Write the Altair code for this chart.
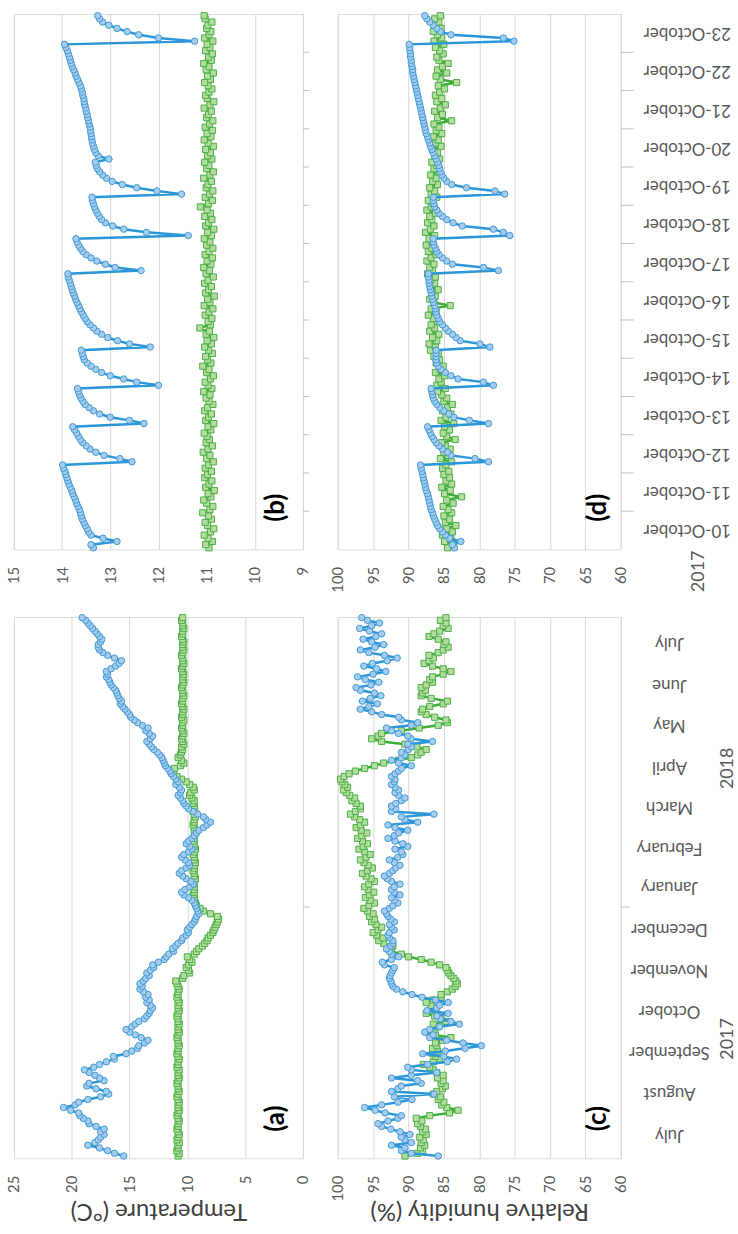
import altair as alt
import pandas as pd

FONT = "Lato"
LABEL_GREY = "#595959"
TITLE_GREY = "#404040"
GRID_GREY = "#D9D9D9"
FRAME_GREY = "#BFBFBF"

BLUE_LINE = "#2B97D8"
BLUE_FILL = "#A6CBEC"
BLUE_EDGE = "#3E9AD6"
GREEN_LINE = "#3DAD3A"
GREEN_FILL = "#B3DC9E"
GREEN_EDGE = "#4CAF47"

# ---- season axis (days counted from 1 January 2018) ----
month_names = ["July", "August", "September", "October", "November", "December",
               "January", "February", "March", "April", "May", "June", "July"]
month_mid_day = [-169, -138, -108, -77, -47, -16, 15, 44, 74, 104, 135, 165, 196]
year_names = ["2017", "2018"]
year_mid_day = [-98, 103]
year_edge_day = [0]
season_domain = [-186.7, 215.5]
season_day = list(range(-185, 216, 2))

# ---- October detail axis (hours from 10 October 00:00) ----
day_names = ["10-October", "11-October", "12-October", "13-October", "14-October",
             "15-October", "16-October", "17-October", "18-October", "19-October",
             "20-October", "21-October", "22-October", "23-October"]
day_mid_hour = [12 + 24 * k for k in range(14)]
day_edge_hour = [24 * k for k in range(1, 14)]
oct_domain = [0, 336]
oct_hour = list(range(1, 336, 2))

# ---- (a) temperature, whole season ----
season_temp_blue = [
    15.5, 16.3, 16.9, 17.6, 18.6, 18.0, 17.7, 17.5, 17.2, 17.5,
    17.2, 17.9, 18.5, 18.6, 19.0, 19.3, 19.4, 20.1, 20.7, 19.7,
    19.4, 18.6, 17.5, 16.8, 17.0, 17.9, 18.7, 18.5, 17.2, 17.6,
    18.0, 18.5, 18.9, 18.1, 17.6, 17.0, 16.3, 16.4, 15.3, 14.8,
    14.3, 14.2, 13.7, 13.4, 14.0, 14.5, 15.0, 15.3, 14.8, 14.5,
    14.2, 13.7, 13.5, 13.3, 13.2, 13.0, 13.2, 13.5, 13.3, 13.6,
    13.4, 13.8, 14.1, 13.9, 14.1, 13.8, 13.6, 13.3, 13.5, 13.2,
    12.9, 13.0, 12.5, 12.0, 11.8, 11.6, 11.2, 11.3, 11.0, 10.8,
    10.5, 10.4, 10.1, 9.9, 10.0, 9.8, 9.6, 9.4, 9.3, 9.2,
    9.0, 9.1, 9.2, 9.3, 9.4, 9.6, 9.9, 10.3, 10.5, 10.2,
    9.8, 9.5, 9.7, 10.1, 10.4, 10.7, 10.5, 10.1, 9.8, 9.9,
    10.2, 10.5, 10.3, 9.9, 9.6, 9.8, 10.1, 9.9, 9.6, 9.4,
    9.2, 9.0, 8.6, 8.3, 8.0, 8.4, 8.6, 9.1, 9.5, 9.9,
    10.1, 10.3, 10.4, 10.6, 10.8, 10.6, 10.5, 10.7, 11.0, 10.8,
    11.0, 11.2, 11.4, 11.5, 11.7, 11.9, 12.0, 12.1, 12.2, 12.4,
    12.6, 12.9, 13.1, 13.3, 13.5, 13.2, 13.0, 13.3, 13.6, 13.4,
    13.9, 14.3, 14.6, 14.9, 15.0, 15.2, 15.4, 15.6, 15.8, 15.7,
    15.9, 16.0, 16.1, 16.2, 16.4, 16.6, 16.7, 16.8, 17.0, 16.9,
    17.0, 16.6, 16.2, 15.9, 15.7, 16.3, 16.9, 17.3, 17.6, 17.7,
    17.7, 17.5, 17.4, 17.6, 17.8, 18.0, 18.2, 18.4, 18.6, 18.8, 19.1,
]
season_temp_green = [
    10.8, 10.7, 10.9, 10.8, 10.8, 10.7, 10.9, 10.8, 10.7, 10.8,
    10.9, 10.8, 10.8, 10.7, 10.8, 10.9, 10.8, 10.7, 10.8, 10.8,
    10.7, 10.8, 10.9, 10.8, 10.7, 10.8, 10.8, 10.9, 10.8, 10.7,
    10.8, 10.8, 10.7, 10.9, 10.8, 10.8, 10.7, 10.8, 10.9, 10.8,
    10.8, 10.7, 10.8, 10.8, 10.9, 10.8, 10.7, 10.8, 10.8, 10.7,
    10.8, 10.8, 10.9, 10.8, 10.7, 10.8, 10.8, 10.7, 10.8, 10.9,
    10.8, 10.8, 10.7, 10.8, 10.9, 11.0, 10.4, 10.3, 9.8, 9.9,
    10.1, 9.9, 9.6, 9.8, 10.0, 9.4, 9.2, 9.0, 8.7, 8.5,
    8.3, 8.2, 8.0, 7.8, 7.7, 7.6, 7.5, 7.4, 7.3, 7.4,
    8.0, 8.6, 8.9, 9.2, 9.3, 9.4, 9.4, 9.5, 9.4, 9.4,
    9.4, 9.5, 9.4, 9.3, 9.4, 9.4, 9.5, 9.4, 9.4, 9.3,
    9.4, 9.4, 9.5, 9.4, 9.3, 9.4, 9.4, 9.5, 9.4, 9.4,
    9.3, 9.4, 9.4, 9.5, 9.4, 9.4, 9.3, 9.4, 9.5, 9.4,
    9.4, 9.5, 9.4, 9.6, 9.8, 9.7, 9.4, 9.5, 9.8, 10.1,
    10.5, 10.9, 11.2, 11.4, 11.1, 10.6, 10.3, 10.5, 10.8, 10.6,
    10.5, 10.4, 10.5, 10.3, 10.4, 10.5, 10.4, 10.3, 10.4, 10.5,
    10.4, 10.4, 10.3, 10.5, 10.4, 10.4, 10.3, 10.4, 10.5, 10.4,
    10.4, 10.3, 10.4, 10.4, 10.5, 10.4, 10.3, 10.4, 10.4, 10.3,
    10.4, 10.5, 10.4, 10.3, 10.4, 10.4, 10.5, 10.4, 10.3, 10.4,
    10.4, 10.3, 10.4, 10.5, 10.4, 10.4, 10.3, 10.4, 10.4, 10.5, 10.4,
]

# ---- (c) relative humidity, whole season ----
season_rh_blue = [
    85.8, 89.6, 91.0, 90.5, 92.4, 89.6, 90.5, 91.0, 89.8, 91.2,
    92.5, 93.8, 94.3, 92.9, 91.5, 91.0, 93.3, 94.7, 96.2, 93.8,
    91.5, 89.5, 92.0, 86.4, 92.4, 91.5, 91.0, 88.2, 88.7, 92.4,
    89.6, 86.0, 89.6, 90.1, 87.3, 84.5, 83.2, 85.0, 88.0, 84.8,
    82.0, 79.7, 82.3, 84.6, 87.0, 86.5, 87.7, 87.0, 85.6, 82.8,
    84.0, 85.5, 86.0, 84.4, 87.4, 86.0, 85.6, 84.4, 86.2, 88.1,
    89.5, 90.8, 91.7, 92.2, 92.4, 92.5, 92.7, 92.6, 92.4, 92.2,
    92.0, 93.4, 93.7, 92.4, 91.4, 92.4, 92.7, 93.1, 92.5, 92.2,
    92.2, 92.7, 92.9, 92.7, 92.0, 92.4, 92.7, 92.0, 92.5, 92.9,
    93.1, 93.4, 92.7, 92.2, 91.5, 92.0, 92.4, 91.2, 92.0, 92.4,
    92.0, 91.2, 92.4, 93.0, 93.4, 92.7, 92.2, 91.8, 91.2, 92.0,
    92.7, 91.5, 90.8, 91.0, 91.9, 90.1, 90.8, 91.9, 92.9, 92.0,
    91.4, 90.1, 91.9, 92.9, 88.7, 90.5, 91.0, 86.4, 92.4, 91.8,
    92.4, 91.8, 91.0, 90.5, 91.4, 91.9, 91.4, 91.9, 92.4, 92.0,
    91.9, 92.4, 91.9, 91.4, 91.0, 89.6, 91.4, 92.4, 91.0, 90.5,
    91.0, 90.0, 89.6, 90.1, 86.6, 89.6, 90.1, 91.4, 92.4, 93.1,
    89.6, 88.7, 91.0, 91.4, 93.8, 95.2, 96.8, 95.6, 94.4, 96.5,
    95.4, 93.9, 94.8, 96.8, 97.4, 95.3, 94.2, 96.1, 97.2, 95.0,
    93.2, 94.5, 96.3, 95.1, 93.0, 91.6, 93.4, 95.6, 96.8, 94.7,
    93.5, 95.2, 96.4, 94.6, 93.8, 95.5, 96.9, 95.2, 94.1, 95.8, 96.6,
]
season_rh_green = [
    90.5, 88.7, 88.0, 88.3, 87.7, 88.2, 87.9, 88.4, 87.5, 88.0,
    87.6, 88.3, 88.7, 88.1, 88.9, 87.0, 84.2, 83.0, 84.6, 85.3,
    85.0, 85.8, 85.5, 86.5, 86.0, 85.2, 84.8, 85.4, 85.1, 85.9,
    85.1, 86.0, 86.5, 87.0, 87.9, 86.5, 85.6, 86.2, 86.6, 85.9,
    86.6, 86.0, 86.2, 85.2, 84.0, 86.2, 87.3, 86.4, 85.9, 86.5,
    84.7, 85.4, 86.3, 87.5, 86.8, 86.2, 86.8, 87.5, 86.5, 85.4,
    85.4, 84.5, 83.8, 83.4, 83.1, 83.3, 83.6, 84.0, 84.3, 84.5,
    84.7, 85.6, 86.8, 88.2, 90.0, 91.0, 92.4, 93.0, 92.2, 93.5,
    94.2, 93.6, 94.5, 95.0, 94.3, 93.8, 94.6, 95.2, 94.8, 95.5,
    95.0, 95.8, 96.3, 95.6, 94.8, 95.4, 96.1, 95.5, 94.9, 95.7,
    96.2, 95.6, 94.8, 95.3, 96.0, 96.5, 95.8, 95.1, 95.7, 96.3,
    96.8, 96.0, 95.4, 96.2, 97.0, 96.4, 95.8, 96.5, 97.2, 96.6,
    95.9, 96.7, 97.4, 96.8, 96.2, 96.9, 97.6, 98.2, 97.5, 96.8,
    96.8, 97.4, 98.0, 97.6, 98.3, 98.8, 99.2, 98.6, 99.0, 99.4,
    99.6, 99.1, 98.4, 97.5, 96.2, 94.8, 93.5, 91.4, 89.6, 88.7,
    88.2, 87.5, 88.8, 90.5, 93.8, 95.2, 94.3, 93.8, 91.0, 88.5,
    85.8, 84.5, 84.7, 86.3, 87.5, 88.2, 88.0, 87.0, 85.1, 84.5,
    86.8, 88.2, 88.0, 87.6, 88.2, 87.5, 86.6, 87.0, 86.6, 85.1,
    84.0, 85.1, 86.6, 87.8, 87.1, 86.5, 87.1, 85.8, 85.1, 84.4,
    85.0, 84.7, 85.8, 87.1, 86.4, 85.6, 84.4, 85.1, 84.7, 85.5, 84.7,
]

# ---- (b) temperature, 10-23 October, every 2 h ----
oct_temp_blue = [
    13.35, 13.40, 12.86, 13.15, 13.40, 13.45, 13.48, 13.52, 13.55, 13.58, 13.60, 13.62,
    13.64, 13.67, 13.70, 13.72, 13.75, 13.78, 13.80, 13.83, 13.86, 13.88, 13.90, 13.92,
    13.94, 13.97, 13.99, 12.55, 12.80, 13.13, 13.30, 13.42, 13.50, 13.57, 13.62, 13.66,
    13.70, 13.74, 13.78, 12.30, 12.60, 13.00, 13.22, 13.35, 13.44, 13.52, 13.57, 13.61,
    13.64, 13.66, 13.68, 12.00, 12.45, 12.72, 13.00, 13.18, 13.30, 13.40, 13.48, 13.54,
    13.56, 13.58, 13.60, 12.17, 12.60, 12.85, 13.05, 13.18, 13.28, 13.35, 13.42, 13.48,
    13.52, 13.56, 13.60, 13.63, 13.66, 13.69, 13.72, 13.74, 13.77, 13.79, 13.81, 13.83,
    13.85, 13.87, 13.88, 12.36, 12.90, 13.10, 13.28, 13.40, 13.50, 13.57, 13.62, 13.66,
    13.69, 13.71, 11.38, 12.25, 12.72, 12.95, 13.10, 13.18, 13.23, 13.27, 13.30, 13.33,
    13.35, 13.37, 13.38, 11.52, 12.03, 12.45, 12.75, 12.96, 13.08, 13.16, 13.22, 13.27,
    13.29, 13.31, 13.03, 13.25, 13.30, 13.33, 13.35, 13.37, 13.38, 13.39, 13.40, 13.41,
    13.42, 13.44, 13.45, 13.47, 13.48, 13.50, 13.51, 13.53, 13.54, 13.55, 13.57, 13.58,
    13.60, 13.62, 13.65, 13.68, 13.71, 13.73, 13.76, 13.79, 13.81, 13.83, 13.85, 13.87,
    13.89, 13.92, 13.95, 11.25, 12.00, 12.41, 12.65, 12.86, 13.03, 13.16, 13.22, 13.26,
]
oct_temp_green = [
    10.95, 11.02, 10.88, 10.97, 11.05, 10.92, 10.85, 10.98, 11.03, 10.90, 10.96, 11.08,
    10.93, 10.87, 11.00, 11.06, 10.91, 10.97, 10.84, 11.02, 10.95, 10.89, 11.04, 10.98,
    10.90, 11.03, 10.96, 10.86, 11.00, 10.93, 11.07, 10.97, 10.88, 11.01, 10.94, 10.99,
    11.05, 10.91, 10.97, 10.85, 11.02, 10.96, 10.90, 11.04, 10.98, 10.87, 10.95, 11.01,
    10.93, 11.06, 10.89, 10.97, 11.03, 10.92, 10.86, 11.00, 10.95, 11.08, 10.91, 10.98,
    11.02, 10.88, 10.96, 11.04, 10.90, 10.99, 10.85, 11.01, 10.94, 11.14, 10.92, 10.97,
    10.89, 11.03, 10.95, 10.87, 11.05, 10.93, 10.98, 10.84, 11.02, 10.96, 10.90, 11.04,
    10.97, 10.86, 11.01, 10.94, 11.06, 10.91, 10.99, 10.88, 11.03, 10.95, 10.87, 11.00,
    10.93, 11.05, 10.90, 10.98, 10.85, 11.02, 10.96, 10.89, 11.04, 10.92, 10.99, 11.13,
    10.96, 10.88, 11.03, 10.94, 10.87, 11.01, 10.97, 10.90, 11.06, 10.93, 10.86, 11.00,
    10.95, 11.04, 10.89, 10.98, 10.92, 11.02, 10.86, 10.97, 11.05, 10.91, 10.99, 10.88,
    11.03, 10.94, 10.87, 11.00, 10.96, 10.90, 11.05, 10.93, 10.85, 10.99, 11.02, 10.95,
    10.89, 10.97, 11.04, 10.92, 10.98, 10.86, 11.01, 10.95, 11.06, 10.90, 10.96, 10.88,
    11.02, 10.93, 10.99, 10.87, 11.04, 10.95, 10.91, 11.00, 10.97, 10.89, 11.03, 11.05,
]

# ---- (d) relative humidity, 10-23 October, every 2 h ----
oct_rh_blue = [
    83.5, 83.8, 82.6, 84.2, 84.8, 85.2, 85.6, 85.9, 86.1, 86.3, 86.5, 86.6,
    86.8, 86.9, 87.0, 87.1, 87.2, 87.3, 87.5, 87.6, 87.7, 87.8, 87.9, 88.0,
    88.1, 88.2, 88.3, 78.7, 80.6, 84.0, 84.5, 85.2, 85.7, 86.1, 86.4, 86.7,
    86.9, 87.1, 87.3, 78.7, 81.4, 83.6, 84.3, 85.0, 85.6, 86.0, 86.3, 86.5,
    86.6, 86.7, 86.8, 78.0, 79.4, 83.0, 84.0, 84.8, 85.4, 85.8, 86.0, 86.1,
    86.1, 86.1, 86.1, 78.5, 79.9, 82.7, 83.3, 83.8, 84.4, 84.8, 85.2, 85.6,
    85.8, 86.0, 86.1, 86.2, 86.3, 86.5, 86.6, 86.7, 86.8, 86.9, 87.0, 87.1,
    87.1, 87.2, 87.2, 77.3, 79.4, 83.8, 84.6, 85.2, 85.7, 86.0, 86.2, 86.4,
    86.5, 86.5, 75.7, 76.6, 78.0, 82.4, 83.7, 84.6, 85.2, 85.7, 86.0, 86.3,
    86.4, 86.5, 86.5, 76.4, 77.8, 81.8, 83.9, 84.6, 85.0, 85.3, 85.5, 85.6,
    85.7, 85.9, 86.1, 86.3, 86.5, 86.7, 86.9, 87.0, 87.2, 87.3, 87.5, 87.6,
    87.7, 87.8, 87.9, 88.0, 88.1, 88.2, 88.3, 88.4, 88.5, 88.6, 88.7, 88.8,
    88.9, 89.0, 89.1, 89.2, 89.3, 89.4, 89.4, 89.5, 89.6, 89.6, 89.7, 89.7,
    89.8, 89.8, 89.9, 75.1, 76.6, 84.0, 85.5, 86.0, 86.5, 87.0, 87.4, 87.7,
]
oct_rh_green = [
    84.5, 83.6, 84.9, 84.0, 85.2, 83.8, 84.6, 83.3, 84.8, 84.2, 85.0, 83.9,
    84.4, 85.1, 83.7, 84.6, 82.5, 84.9, 84.1, 85.3, 83.9, 84.7, 84.2, 85.0,
    84.3, 85.2, 84.7, 83.9, 85.5, 84.4, 85.0, 84.1, 84.8, 85.3, 83.4, 84.6,
    85.1, 84.2, 84.9, 83.6, 85.4, 84.7, 84.0, 85.2, 84.5, 83.8, 85.0, 84.6,
    85.3, 85.9, 84.8, 86.0, 85.4, 85.7, 84.9, 86.2, 85.5, 85.1, 86.1, 85.6,
    86.4, 85.8, 86.9, 86.2, 87.1, 86.0, 86.6, 85.7, 87.0, 86.3, 86.8, 85.9,
    86.5, 87.2, 86.1, 86.8, 84.1, 86.4, 87.0, 86.2, 86.7, 85.8, 86.9, 86.3,
    86.9, 86.2, 87.3, 86.6, 87.0, 86.4, 87.4, 86.8, 86.1, 87.2, 86.7, 87.5,
    86.6, 87.1, 86.3, 87.6, 86.9, 86.4, 87.3, 86.7, 87.0, 86.2, 87.4, 86.8,
    86.5, 87.2, 86.0, 86.8, 86.3, 87.0, 85.9, 86.6, 86.1, 86.9, 85.7, 86.4,
    86.0, 86.7, 85.6, 86.3, 85.9, 86.6, 85.4, 86.2, 85.8, 86.5, 85.3, 86.1,
    85.7, 86.4, 83.9, 85.9, 85.2, 86.3, 85.5, 84.8, 86.0, 85.3, 86.2, 85.6,
    84.9, 85.8, 83.2, 85.5, 86.1, 84.6, 85.9, 85.2, 84.4, 85.7, 86.0, 85.1,
    85.6, 86.2, 85.0, 86.4, 85.3, 85.9, 86.5, 85.4, 86.1, 85.7, 86.3, 85.5,
]


def panel(times, blue, green, vdomain, vticks, tdomain, width, height,
          letter, letter_xy, tick_hours, tick_len, time_labels=None,
          label_offset=0, year_text=None, year_px=None, title=None, title_dy=52):
    x_enc = alt.X(
        "v:Q",
        scale=alt.Scale(domain=vdomain, reverse=True, nice=False, zero=False),
        axis=alt.Axis(
            values=vticks, grid=True, gridColor=GRID_GREY, gridWidth=1,
            ticks=False, domain=False, labelAngle=270, labelAlign="right",
            labelBaseline="middle", labelPadding=17, labelFontSize=15,
            labelColor=LABEL_GREY, labelFont=FONT, labelFlush=False,
            labelOverlap=False, title=title, titleFont=FONT, titleFontSize=24,
            titleFontWeight="normal", titleColor=TITLE_GREY, titleAngle=180,
            titleAlign="center", titleBaseline="middle", titleX=width / 2,
            titleY=title_dy,
        ),
    )
    y_enc = alt.Y("t:Q", scale=alt.Scale(domain=tdomain, nice=False, zero=False), axis=None)

    def series(vals, line_col, fill, edge, shape, size):
        df = pd.DataFrame({"t": times, "v": vals})
        base = alt.Chart(df)
        line = base.mark_line(color=line_col, strokeWidth=2.5).encode(
            x=x_enc, y=y_enc, order="t:Q")
        pts = base.mark_point(shape=shape, filled=True, fill=fill, stroke=edge,
                              strokeWidth=1, size=size, opacity=1).encode(x=x_enc, y=y_enc)
        return [line, pts]

    layers = series(green, GREEN_LINE, GREEN_FILL, GREEN_EDGE, "square", 38)
    layers += series(blue, BLUE_LINE, BLUE_FILL, BLUE_EDGE, "circle", 42)

    ticks = alt.Chart(pd.DataFrame({"t": tick_hours})).mark_rule(
        color=FRAME_GREY, strokeWidth=1).encode(
        y=y_enc, x=alt.value(width), x2=alt.value(width + tick_len))
    layers.append(ticks)

    if time_labels is not None:
        pos, names = time_labels
        lab = alt.Chart(pd.DataFrame({"t": pos, "name": names})).mark_text(
            angle=180, align="center", baseline="middle", font=FONT, fontSize=17,
            color=LABEL_GREY).encode(y=y_enc, x=alt.value(width + label_offset), text="name:N")
        layers.append(lab)

    if year_text is not None:
        pos, names = year_text
        yr = alt.Chart(pd.DataFrame({"t": pos, "name": names})).mark_text(
            angle=270, align="center", baseline="middle", font=FONT, fontSize=18,
            color=LABEL_GREY).encode(y=y_enc, x=alt.value(width + year_px), text="name:N")
        layers.append(yr)

    tag = alt.Chart(pd.DataFrame({"k": [0]})).mark_text(
        angle=270, align="center", baseline="middle", font=FONT, fontSize=26,
        fontWeight="bold", color="#000000").encode(
        x=alt.value(letter_xy[0]), y=alt.value(letter_xy[1]), text=alt.value(letter))
    layers.append(tag)

    return alt.layer(*layers).properties(width=width, height=height)


W_LEFT, W_RIGHT = 291, 285
H_TOP, H_BOTTOM = 539, 545

panel_b = panel(oct_hour, oct_temp_blue, oct_temp_green, [9, 15], list(range(9, 16)),
                oct_domain, W_LEFT, H_TOP, "(b)", (264, 497), day_edge_hour, 6)

oct_year = alt.Chart(pd.DataFrame({"k": [0]})).mark_text(
    angle=270, align="center", baseline="middle", font=FONT, fontSize=18,
    color=LABEL_GREY).encode(x=alt.value(W_RIGHT + 79), y=alt.value(H_TOP + 22),
                             text=alt.value("2017"))
panel_d = alt.layer(
    panel(oct_hour, oct_rh_blue, oct_rh_green, [60, 100], list(range(60, 101, 5)),
          oct_domain, W_RIGHT, H_TOP, "(d)", (262, 497), day_edge_hour, 13,
          time_labels=(day_mid_hour, day_names), label_offset=67),
    oct_year,
)

panel_a = panel(season_day, season_temp_blue, season_temp_green, [0, 25],
                list(range(0, 26, 5)), season_domain, W_LEFT, H_BOTTOM, "(a)",
                (264, 505), year_edge_day, 7, title="Temperature (°C)")

panel_c = panel(season_day, season_rh_blue, season_rh_green, [60, 100],
                list(range(60, 101, 5)), season_domain, W_RIGHT, H_BOTTOM, "(c)",
                (262, 505), year_edge_day, 9,
                time_labels=(month_mid_day, month_names), label_offset=49,
                year_text=(year_mid_day, year_names), year_px=108,
                title="Relative humidity (%)")

chart = alt.concat(
    panel_b, panel_d, panel_a, panel_c, columns=2,
    spacing=alt.RowColnumber(row=18, column=18),
).properties(
    padding={"left": 6, "top": 5, "right": 0, "bottom": 0},
).configure_view(
    stroke=FRAME_GREY, strokeWidth=1,
).configure(font=FONT)

chart.save("out.html", embed_options={"renderer": "svg", "actions": False})
